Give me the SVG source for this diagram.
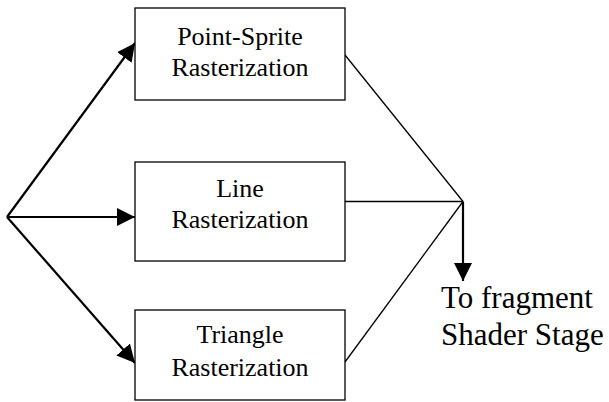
<svg xmlns="http://www.w3.org/2000/svg" width="609" height="402" viewBox="0 0 609 402">
  <style>
    .box { fill: #fff; stroke: #000; stroke-width: 1.3; }
    .lbl { font-family: "Liberation Serif", "Times New Roman", serif; font-size: 26px; fill: #000; text-anchor: middle; }
    .out { font-family: "Liberation Serif", "Times New Roman", serif; font-size: 31px; fill: #000; }
    .thin { fill: none; stroke: #000; stroke-width: 1.3; }
    .arr { fill: none; stroke: #000; stroke-width: 2.2; marker-end: url(#head); }
  </style>
  <defs>
    <marker id="head" markerUnits="userSpaceOnUse" markerWidth="18" markerHeight="18" viewBox="0 0 16 16" refX="16" refY="8" orient="auto">
      <path d="M0,0 L16,8 L0,16 Z" fill="#000"/>
    </marker>
  </defs>

  <g id="connectors">
    <!-- fan-out from the input point -->
    <line class="arr" x1="7" y1="217" x2="135" y2="43"/>
    <line class="arr" x1="7" y1="217" x2="135" y2="217"/>
    <line class="arr" x1="7" y1="217" x2="135" y2="363"/>
    <!-- merge into the output point -->
    <line class="thin" x1="345" y1="55" x2="463" y2="201.5"/>
    <line class="thin" x1="345" y1="201.5" x2="463" y2="201.5"/>
    <line class="thin" x1="345" y1="362" x2="463" y2="201.5"/>
    <line class="arr" x1="463" y1="201.5" x2="463" y2="281"/>
  </g>

  <g id="point-sprite">
    <rect class="box" x="135" y="8" width="210" height="92"/>
    <text class="lbl" x="240" y="45">Point-Sprite</text>
    <text class="lbl" x="240" y="76">Rasterization</text>
  </g>

  <g id="line">
    <rect class="box" x="135" y="162" width="210" height="99"/>
    <text class="lbl" x="240" y="197">Line</text>
    <text class="lbl" x="240" y="228">Rasterization</text>
  </g>

  <g id="triangle">
    <rect class="box" x="135" y="310" width="210" height="90"/>
    <text class="lbl" x="240" y="343">Triangle</text>
    <text class="lbl" x="240" y="376">Rasterization</text>
  </g>

  <g id="output">
    <text class="out" x="441" y="308">To fragment</text>
    <text class="out" x="441" y="345">Shader Stage</text>
  </g>
</svg>
